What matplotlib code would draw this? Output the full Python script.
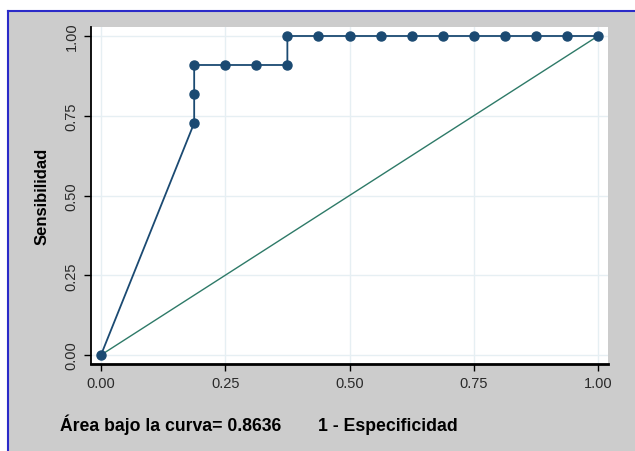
import matplotlib.pyplot as plt
from matplotlib.patches import Rectangle
from matplotlib.lines import Line2D

# ROC curve points (1 - specificity, sensitivity)
fpr = [0.0, 0.1875, 0.1875, 0.1875, 0.25, 0.3125, 0.375, 0.375, 0.4375, 0.5,
       0.5625, 0.625, 0.6875, 0.75, 0.8125, 0.875, 0.9375, 1.0]
tpr = [0.0, 0.7273, 0.8182, 0.9091, 0.9091, 0.9091, 0.9091, 1.0, 1.0, 1.0,
       1.0, 1.0, 1.0, 1.0, 1.0, 1.0, 1.0, 1.0]
ref_line = [0.0, 1.0]
ticks = [0.0, 0.25, 0.5, 0.75, 1.0]
tick_labels = ["0.00", "0.25", "0.50", "0.75", "1.00"]
auc_text = "Área bajo la curva= 0.8636"

plt.rcParams['font.family'] = ['Liberation Sans', 'DejaVu Sans']

W, H = 635, 452
fig = plt.figure(figsize=(W / 100, H / 100), dpi=100, facecolor='white')

# gray panel with blue border (top and left)
fig.patches.append(Rectangle((8 / W, 0), 1, 1 - 12 / H, transform=fig.transFigure,
                             facecolor='#cccccc', edgecolor='none', zorder=-5))
fig.lines.append(Line2D([8 / W, 1], [1 - 12 / H, 1 - 12 / H], transform=fig.transFigure,
                        color='#2b2bc8', lw=1.5, zorder=-4))
fig.lines.append(Line2D([8 / W, 8 / W], [0, 1 - 12 / H], transform=fig.transFigure,
                        color='#2b2bc8', lw=1.5, zorder=-4))

ax = fig.add_axes([91 / W, 1 - 365 / H, (608 - 91) / W, (365 - 28) / H])
ax.set_facecolor('white')

ax.plot(ref_line, ref_line, color='#2e7a68', lw=1.0, zorder=2)
ax.plot(fpr, tpr, color='#1b4a72', lw=1.3, marker='o', markersize=6.5, zorder=3)

ax.set_xlim(-0.0201, 1.0201)
ax.set_ylim(-0.0282, 1.0282)
ax.set_xticks(ticks)
ax.set_xticklabels(tick_labels)
ax.set_yticks(ticks)
ax.set_yticklabels(tick_labels, rotation=90, va='center')
ax.grid(True, color='#e6eff3', lw=1.0)
ax.set_axisbelow(True)

for s in ['top', 'right']:
    ax.spines[s].set_visible(False)
ax.spines['left'].set_linewidth(1.3)
ax.spines['bottom'].set_linewidth(2.0)
ax.tick_params(direction='out', length=5, width=1.0, labelsize=10.5, colors='black', pad=4)
for lab in ax.get_xticklabels() + ax.get_yticklabels():
    lab.set_color('#2a2a2a')

ax.set_ylabel("Sensibilidad", fontsize=12, fontweight='bold', labelpad=11)

fig.text(60 / W, 1 - 431 / H, auc_text, fontsize=12.7, fontweight='bold', va='baseline')
fig.text(318 / W, 1 - 431 / H, "1 - Especificidad", fontsize=12.7, fontweight='bold', va='baseline')

plt.savefig('out.png', dpi=100, facecolor=fig.get_facecolor())
